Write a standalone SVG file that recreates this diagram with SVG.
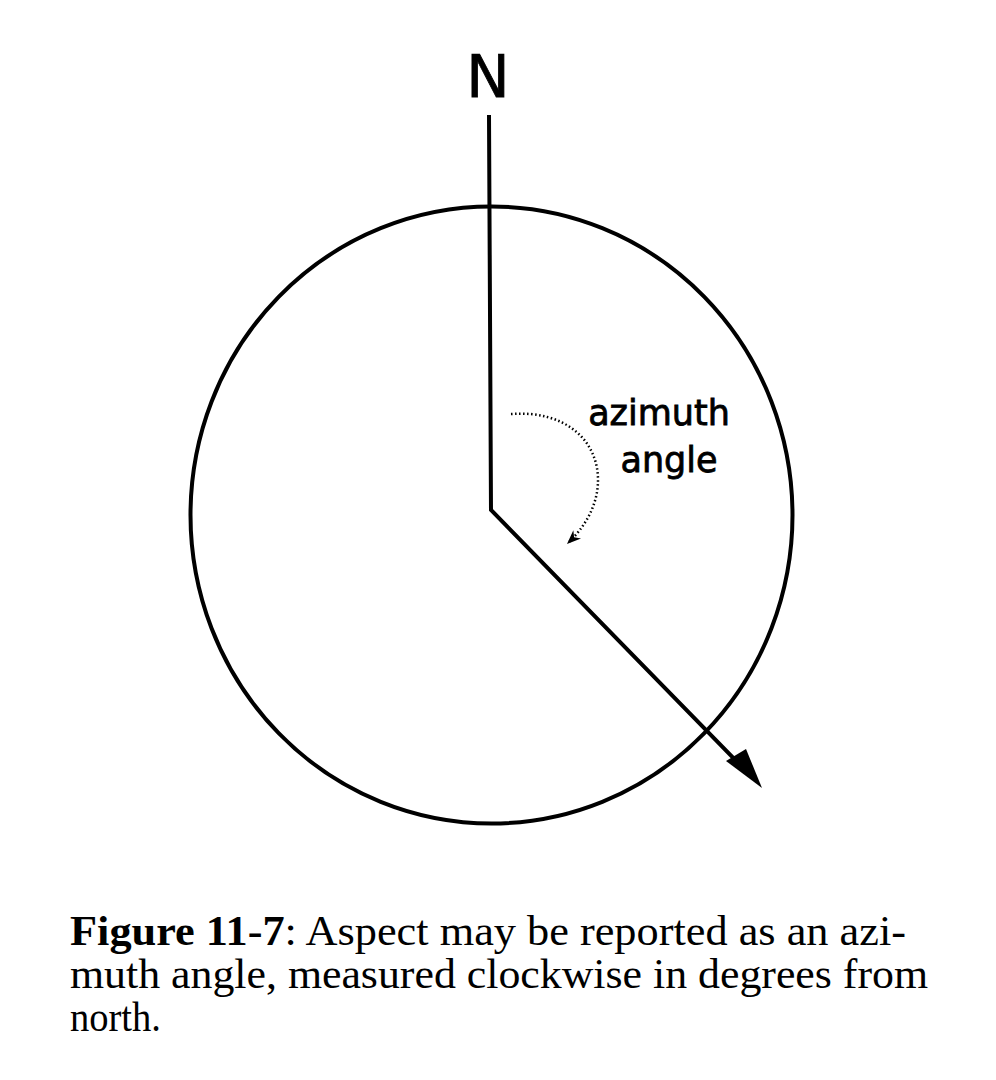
<svg xmlns="http://www.w3.org/2000/svg" width="996" height="1080" viewBox="0 0 996 1080">
<style>
.ln{fill:none;stroke:#000;stroke-width:4;stroke-linejoin:miter}
.lbl{font-family:"DejaVu Sans",sans-serif;fill:#000;stroke:#000;stroke-width:0.8}
.cap{font-family:"Liberation Serif",serif;font-size:43px;fill:#000}
</style>
<defs>
<marker id="small" viewBox="0 0 10 10" refX="9" refY="5" markerWidth="14" markerHeight="14" orient="auto" markerUnits="userSpaceOnUse">
<path d="M0,1 L10,5 L0,9 L3,5 z" fill="#000"/>
</marker>
</defs>
<rect width="996" height="1080" fill="#fff"/>
<g id="circle"><ellipse cx="491.5" cy="515" rx="301" ry="308.5" class="ln"/></g>
<g id="north-label"><text class="lbl" x="488" y="97" font-size="58" text-anchor="middle" stroke-width="2">N</text></g>
<g id="angle-label">
<text class="lbl" x="659" y="425" font-size="35" text-anchor="middle">azimuth</text>
<text class="lbl" x="669" y="472" font-size="35" text-anchor="middle">angle</text>
</g>
<g id="connectors">
<polyline class="ln" points="489,115 491,510 748,773"/>
<path d="M762,788 L726,761 L746,749 z" fill="#000"/>
<path d="M511,414 C565,410 598,440 598,480 C598,505 585,527 568,543" fill="none" stroke="#000" stroke-width="2.5" stroke-dasharray="1.5,2.5" marker-end="url(#small)"/>
</g>
<g id="caption">
<text class="cap" x="70" y="945" textLength="836" lengthAdjust="spacingAndGlyphs"><tspan font-weight="bold">Figure 11-7</tspan>: Aspect may be reported as an azi-</text>
<text class="cap" x="70" y="988" textLength="858" lengthAdjust="spacingAndGlyphs">muth angle, measured clockwise in degrees from</text>
<text class="cap" x="70" y="1031" textLength="91" lengthAdjust="spacingAndGlyphs">north.</text>
</g>
</svg>
